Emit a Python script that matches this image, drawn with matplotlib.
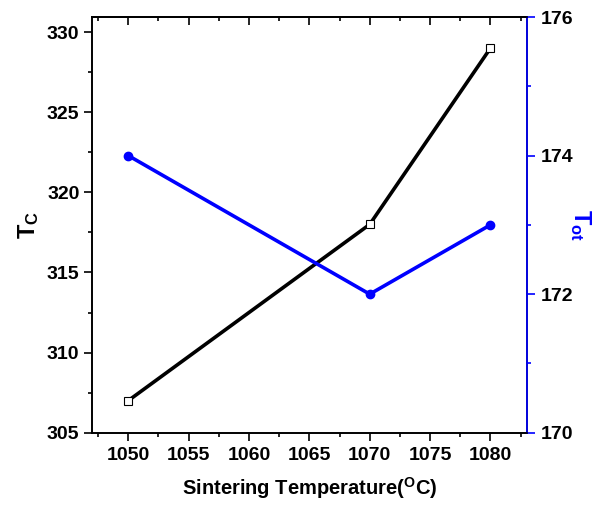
import matplotlib
matplotlib.use("Agg")
import matplotlib.pyplot as plt
from matplotlib.ticker import MultipleLocator

plt.rcParams['font.family'] = ['Liberation Sans', 'DejaVu Sans']
plt.rcParams['font.weight'] = 'bold'
plt.rcParams['mathtext.fontset'] = 'custom'
plt.rcParams['mathtext.rm'] = 'Liberation Sans'
plt.rcParams['mathtext.bf'] = 'Liberation Sans:bold'
plt.rcParams['mathtext.it'] = 'Liberation Sans:italic'

temps = [1050, 1070, 1080]
tc_values = [307, 318, 329]
tot_values = [174, 172, 173]
x_ticks = [1050, 1055, 1060, 1065, 1070, 1075, 1080]

fig = plt.figure(figsize=(5.99, 5.11), dpi=100)
ax = fig.add_axes([0.1536, 0.1532, 0.8793 - 0.1536, 0.9667 - 0.1532])
ax2 = ax.twinx()

ax.plot(temps, tc_values, color='black', lw=2.6, marker='s', ms=5.5,
        mfc='white', mec='black', mew=0.8, zorder=3)
ax2.plot(temps, tot_values, color='#0000ff', lw=2.6, marker='o', ms=6,
         mfc='#0000ff', mec='#0000ff', zorder=3)

ax.set_xlim(1047, 1083)
ax.set_ylim(305, 330.94)
ax2.set_ylim(170, 176)

ax.set_xticks(x_ticks)
ax.xaxis.set_minor_locator(MultipleLocator(2.5))
ax.yaxis.set_major_locator(MultipleLocator(5))
ax.yaxis.set_minor_locator(MultipleLocator(2.5))
ax2.yaxis.set_major_locator(MultipleLocator(2))
ax2.yaxis.set_minor_locator(MultipleLocator(1))

fs = 14
ax.tick_params(axis='x', which='both', direction='out', top=False, labelsize=fs, pad=4)
ax.tick_params(axis='x', which='major', length=6, width=1.2)
ax.tick_params(axis='x', which='minor', length=3, width=1.2)
ax.tick_params(axis='y', which='both', direction='out', right=False, labelsize=fs, pad=3)
ax.tick_params(axis='y', which='major', length=6, width=1.2)
ax.tick_params(axis='y', which='minor', length=3, width=1.2)
ax2.tick_params(axis='y', which='both', direction='out', colors='#0000ff', labelcolor='black', labelsize=fs, pad=4)
ax2.tick_params(axis='y', which='major', length=6, width=1.2)
ax2.tick_params(axis='y', which='minor', length=3, width=1.2)

# top inward ticks
sec = ax.secondary_xaxis('top')
sec.set_xticks(x_ticks)
sec.xaxis.set_minor_locator(MultipleLocator(2.5))
sec.tick_params(axis='x', which='both', direction='in', labeltop=False)
sec.tick_params(axis='x', which='major', length=6, width=1.2)
sec.tick_params(axis='x', which='minor', length=3, width=1.2)
sec.spines['top'].set_linewidth(1.2)

for a in (ax, ax2):
    for s in a.spines.values():
        s.set_linewidth(1.2)
ax2.spines['right'].set_color('#0000ff')

for lab in ax.get_xticklabels() + ax.get_yticklabels() + ax2.get_yticklabels():
    lab.set_fontweight('bold')

ax.set_xlabel(r'Sintering Temperature($^{\mathbf{O}}$C)', fontsize=14.5, fontweight='bold', labelpad=8)
ax.set_ylabel(r'$\mathbf{T}_{\mathrm{C}}$', fontsize=17, labelpad=4)
ax2.set_ylabel(r'$\mathbf{T}_{\mathbf{ot}}$', fontsize=17, color='#0000ff', rotation=-90, labelpad=14)

fig.savefig('out.png', dpi=100)
